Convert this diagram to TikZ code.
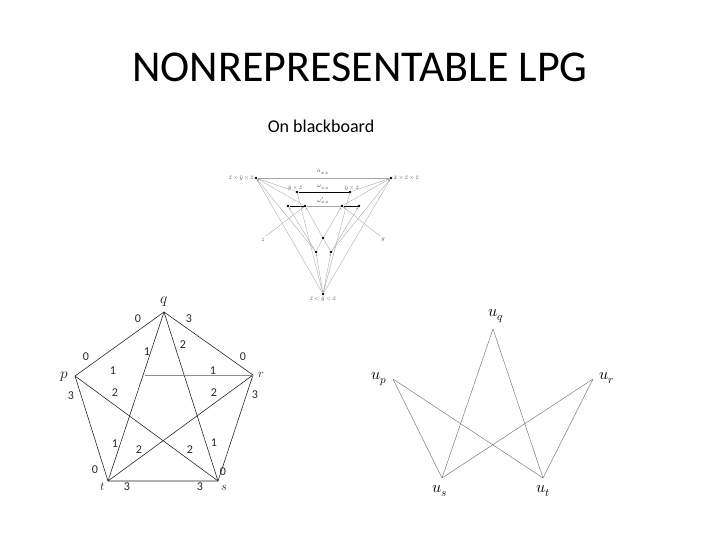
\documentclass[tikz,border=0pt]{standalone}
\usepackage{fontspec}
\setmainfont{Carlito}
\usepackage{unicode-math}
\setmathfont{Latin Modern Math}
\usetikzlibrary{arrows.meta}
\begin{document}
\begin{tikzpicture}[x=1pt,y=-1pt,
  dot/.style={circle,fill=black,inner sep=0pt,minimum size=2.6pt},
  hl/.style={draw=black!35,line width=0.35pt},
  hla/.style={hl,-{Stealth[length=2.5pt,width=1.8pt]}},
  thick1/.style={draw=black,line width=0.7pt},
  tiny/.style={font=\fontsize{6}{7}\selectfont,inner sep=0.3pt,text=black!70},
  pe/.style={draw=black!85,line width=0.6pt},
  lab/.style={font=\fontsize{12}{14}\selectfont,inner sep=0pt,text=black!85},
  plab/.style={font=\fontsize{15}{17}\selectfont,inner sep=0pt,text=black!85},
  slab/.style={font=\fontsize{12}{14}\selectfont,inner sep=0pt,text=black!85},
  ue/.style={draw=black!55,line width=0.45pt},
  ulab/.style={font=\fontsize{16}{18}\selectfont,inner sep=0pt}]
\useasboundingbox (0,0) rectangle (720,540);
% titles
\node[anchor=base,font=\fontsize{44}{50}\selectfont,inner sep=0pt] (title) at (360,82) {NONREPRESENTABLE LPG};
\node[anchor=base,font=\fontsize{18}{21}\selectfont,inner sep=0pt] (sub) at (321,133) {On blackboard};

% ---------- top diagram ----------
\node[dot] (A) at (256,178) {};
\node[dot] (B) at (391,178) {};
\node[dot] (C) at (297,192) {};
\node[dot] (D) at (350,192) {};
\node[dot] (E) at (288,206) {};
\node[dot] (F) at (305,206) {};
\node[dot] (G) at (342,206) {};
\node[dot] (H) at (359,206) {};
\node[dot] (M) at (323,238) {};
\node[dot] (L1) at (316,252) {};
\node[dot] (L2) at (331,252) {};
\node[dot] (Bot) at (323,294) {};
\coordinate (Z) at (266,236);
\coordinate (Y) at (380,236);
\node[tiny,anchor=east] (lA) at ([xshift=-0.5pt]A.west) {$\bar z\times\bar y\times\bar z$};
\node[tiny,anchor=west] (lB) at ([xshift=0.5pt]B.east) {$\bar x\times\bar z\times\bar z$};
\node[tiny,anchor=south] (lC) at ([xshift=-2pt,yshift=-1pt]C.north) {$\bar y\times\bar z$};
\node[tiny,anchor=south] (lD) at ([xshift=2pt,yshift=-1pt]D.north) {$\bar y\times\bar x$};
\node[tiny] (l1) at (323,172) {$a_{xz}$};
\node[tiny] (l2) at (323,187) {$\omega_{xz}$};
\node[tiny] (l3) at (323,200.5) {$\omega'_{xz}$};
\node[tiny] (lZ) at (263,240) {$z$};
\node[tiny] (lY) at (383,240) {$y$};
\node[tiny,anchor=north] (lBot) at ([yshift=-1pt]Bot.south) {$\bar z<\bar y<\bar x$};

\draw[hl] (A) -- (B);
\draw[hl] (F) -- (G);
\draw[thick1] (C) -- (D);
\draw[thick1] (E) -- (F);
\draw[thick1] (G) -- (H);
\draw[hla] (C) -- (A);
\draw[hla] (D) -- (B);
\draw[hla] (F) -- (A);
\draw[hla] (G) -- (B);
\draw[hl] (A) -- (L1);
\draw[hl] (B) -- (L2);
\draw[hla] (Bot) -- (A);
\draw[hla] (Bot) -- (B);
\draw[hl] (Bot) -- (C);
\draw[hl] (Bot) -- (D);
\draw[hla] (L1) -- (E);
\draw[hla] (L2) -- (H);
\draw[hla] (M) -- (F);
\draw[hla] (M) -- (G);
\draw[hl] (M) -- (L1);
\draw[hl] (M) -- (L2);
\draw[hla] (Bot) -- (L1);
\draw[hla] (Bot) -- (L2);
\draw[hla] (Z) -- (F);
\draw[hla] (Y) -- (G);

% ---------- pentagon ----------
\coordinate (q) at (164,312);
\coordinate (p) at (75,376);
\coordinate (r) at (253,375);
\coordinate (t) at (108,481);
\coordinate (s) at (218,481);
\coordinate (pr) at (145,375);
\draw[pe] (p) -- (q) -- (r) -- (s) -- (t) -- cycle;
\draw[pe] (q) -- (t);
\draw[pe] (q) -- (s);
\draw[pe] (p) -- (s);
\draw[pe] (r) -- (t);
\draw[draw=black!45,line width=0.5pt] (pr) -- (r);
\node[plab] (nq) at (164,302) {$q$};
\node[plab] (np) at (64,377) {$p$};
\node[slab] (nr) at (261,375) {$r$};
\node[slab] (nt) at (103,487) {$t$};
\node[slab] (ns) at (224,488) {$s$};
\node[lab] (a1) at (138,319) {0};
\node[lab] (a2) at (189,319) {3};
\node[lab] (a3) at (86,357) {0};
\node[lab] (a4) at (147,352) {1};
\node[lab] (a5) at (183,345) {2};
\node[lab] (a6) at (243,357) {0};
\node[lab] (a7) at (113,371) {1};
\node[lab] (a8) at (213,371) {1};
\node[lab] (a9) at (71,396) {3};
\node[lab] (a10) at (115,393) {2};
\node[lab] (a11) at (214,393) {2};
\node[lab] (a12) at (255,395) {3};
\node[lab] (a13) at (115,444) {1};
\node[lab] (a14) at (139,450) {2};
\node[lab] (a15) at (190,450) {2};
\node[lab] (a16) at (214,443) {1};
\node[lab] (a17) at (95,470) {0};
\node[lab] (a18) at (223,472) {0};
\node[lab] (a19) at (127,487) {3};
\node[lab] (a20) at (200,487) {3};

% ---------- right diagram ----------
\coordinate (uq) at (493,329);
\coordinate (up) at (393,379);
\coordinate (ur) at (593,379);
\coordinate (us) at (442,478);
\coordinate (ut) at (543,478);
\draw[ue] (uq) -- (us);
\draw[ue] (uq) -- (ut);
\draw[ue] (up) -- (us);
\draw[ue] (up) -- (ut);
\draw[ue] (ur) -- (us);
\draw[ue] (ur) -- (ut);
\node[ulab] (luq) at (496,316) {$u_q$};
\node[ulab] (lup) at (379,379) {$u_p$};
\node[ulab] (lur) at (607,378) {$u_r$};
\node[ulab] (lus) at (440,491) {$u_s$};
\node[ulab] (lut) at (543,491) {$u_t$};
\end{tikzpicture}
\end{document}
